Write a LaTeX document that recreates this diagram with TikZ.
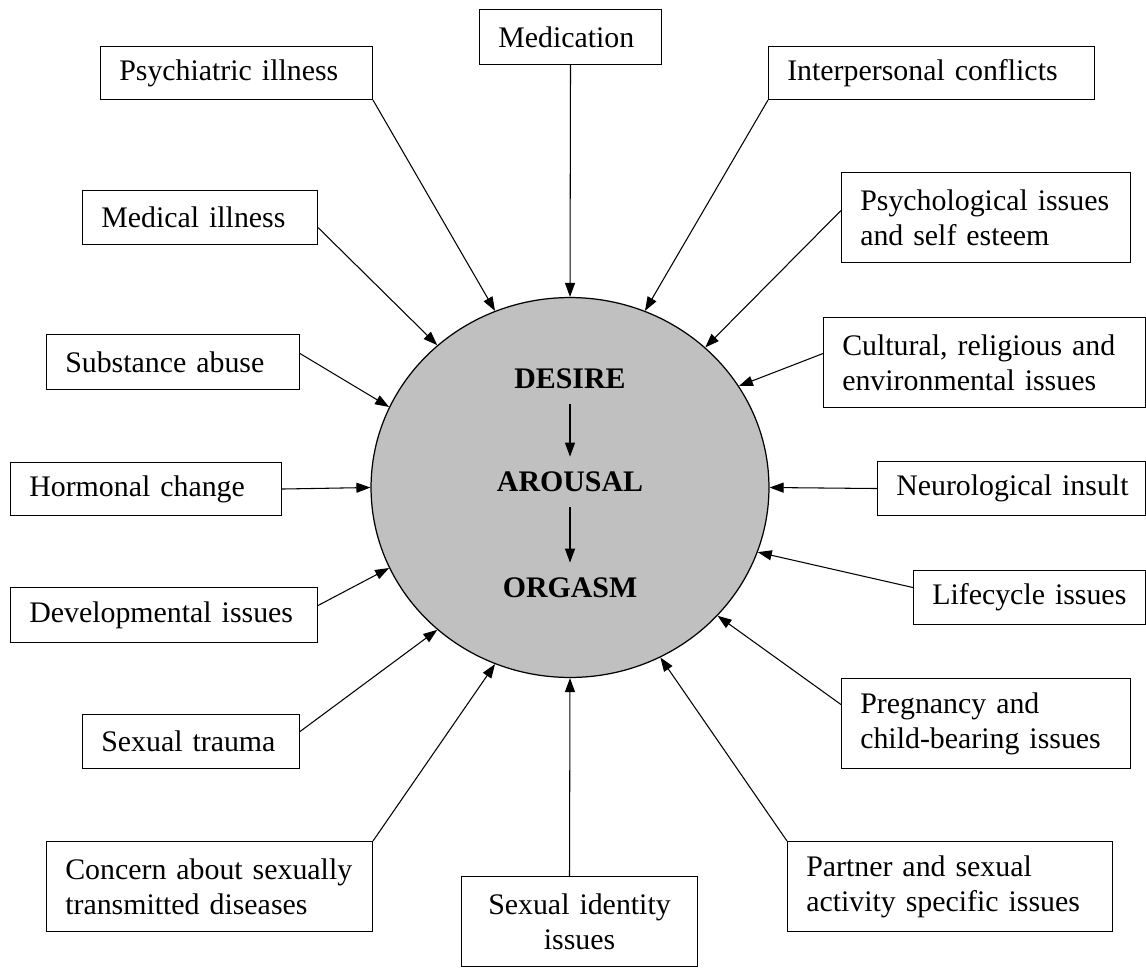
\documentclass[tikz,border=0pt]{standalone}
\usepackage{fontspec}
\setmainfont{Liberation Serif}
\usepackage{tikz}
\usetikzlibrary{shapes.geometric,arrows.meta}
\definecolor{coregray}{RGB}{192,192,192}
\tikzset{
	factor/.style 2 args={draw, line width=0.6pt, anchor=north west, inner xsep=0.375cm, inner ysep=0pt, align=left, minimum width=#1cm, minimum height=#2cm, text width=#1cm-0.75cm,
		execute at begin node={\hyphenpenalty=10000\exhyphenpenalty=10000\hbadness=10000\hfuzz=2cm}},
	stage/.style={font=\fontsize{17}{19.8}\selectfont\bfseries, inner xsep=0pt, inner ysep=0.3cm},
	flow/.style={line width=0.6pt, -{Triangle[length=0.28cm,width=0.2cm]}},
}

\begin{document}
\begin{tikzpicture}[x=0.02cm, y=-0.02cm, font=\fontsize{17}{19.8}\selectfont]
			%%%%% START %%%%%
			\useasboundingbox (0,0) rectangle (1146,967);
			
			\node[ellipse, draw, line width=0.7pt, fill=coregray, minimum width=7.96cm, minimum height=7.6cm, inner sep=0pt] (core) at (570,487.5) {};
			
			\node[stage] (desire) at (570,379) {DESIRE};
			\node[stage] (arousal) at (570,482) {AROUSAL};
			\node[stage] (orgasm) at (570,588) {ORGASM};
			\draw[flow] (desire) -- (arousal);
			\draw[flow] (arousal) -- (orgasm);
			
			% left column
			\node[factor={5.44}{1.06}] (psychiatric) at (100,46) {Psychiatric~illness};
			\node[factor={4.70}{1.08}] (medical) at (82,190) {Medical~illness};
			\node[factor={5.06}{1.10}] (substance) at (46,334) {Substance~abuse};
			\node[factor={5.42}{1.06}] (hormonal) at (10,462) {Hormonal~change};
			\node[factor={6.14}{1.10}] (developmental) at (10,587) {Developmental~issues};
			\node[factor={4.34}{1.08}] (trauma) at (82,714) {Sexual~trauma};
			\node[factor={6.52}{1.80}] (concern) at (46,841) {Concern~about~sexually\\transmitted~diseases};
			
			% middle
			\node[factor={3.64}{1.10}] (medication) at (479,9) {Medication};
			\node[factor={4.72}{1.80}, align=center] (identity) at (461,876) {Sexual~identity\\issues};
			
			% right column
			\node[factor={6.52}{1.06}] (interpersonal) at (768,46) {Interpersonal~conflicts};
			\node[factor={5.78}{1.80}] (psychological) at (841,172) {Psychological~issues\\and~self~esteem};
			\node[factor={6.44}{1.80}] (cultural) at (823,317) {Cultural,~religious~and\\environmental~issues};
			\node[factor={5.36}{1.08}] (neuro) at (877,461) {Neurological~insult};
			\node[factor={4.64}{1.08}] (lifecycle) at (913,570) {Lifecycle~issues};
			\node[factor={5.78}{1.80}] (pregnancy) at (841,678) {Pregnancy~and\\child-bearing~issues};
			\node[factor={6.50}{1.80}] (partner) at (787,841) {Partner~and~sexual\\activity~specific~issues};
			
			% arrows into the circle
			\draw[flow] (medication.south) -- (core.90);
			\draw[flow] (psychiatric.south east) -- (core.113);
			\draw[flow] ([yshift=-0.2cm]medical.east) -- (core.133);
			\draw[flow] ([yshift=0.17cm]substance.east) -- (core.156);
			\draw[flow] (hormonal.east) -- (core.180);
			\draw[flow] ([yshift=0.19cm]developmental.east) -- (core.204);
			\draw[flow] ([yshift=0.2cm]trauma.east) -- (core.227);
			\draw[flow] (concern.north east) -- (core.247);
			\draw[flow] ([xshift=-0.2cm]identity.north) -- (core.270);
			\draw[flow] (partner.north west) -- (core.298);
			\draw[flow] ([yshift=0.38cm]pregnancy.west) -- (core.319);
			\draw[flow] ([yshift=0.2cm]lifecycle.west) -- (core.341);
			\draw[flow] (neuro.west) -- (core.0);
			\draw[flow] ([yshift=0.18cm]cultural.west) -- (core.31);
			\draw[flow] ([yshift=0.14cm]psychological.west) -- (core.46);
			\draw[flow] (interpersonal.south west) -- (core.67);
			
			%%%%% END %%%%%
\end{tikzpicture}
\end{document}
